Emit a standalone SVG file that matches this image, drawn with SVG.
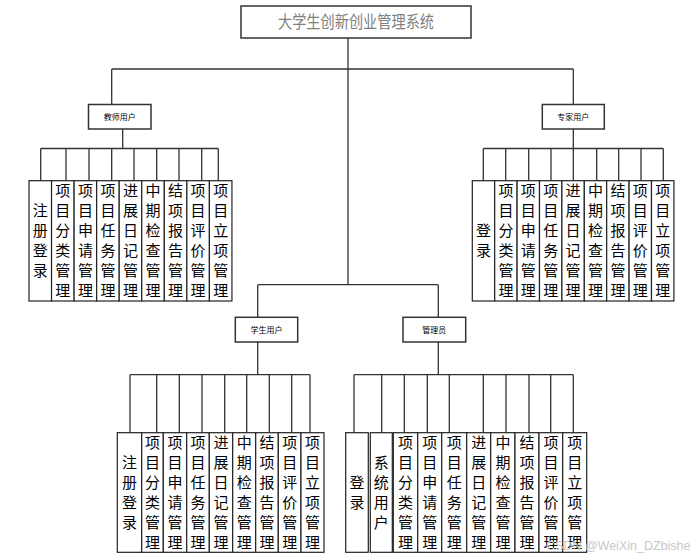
<svg xmlns="http://www.w3.org/2000/svg" width="700" height="560" viewBox="0 0 700 560">
<style>
.bx{fill:#fff;stroke:#333;stroke-width:1.5}
.col{fill:#fff;stroke:#222;stroke-width:1.2}
.ln{fill:none;stroke:#333;stroke-width:1.3}
.t{font-family:"Noto Sans CJK SC","Liberation Sans",sans-serif;font-size:15px;fill:#000;text-anchor:middle}
.s{font-family:"Noto Sans CJK SC","Liberation Sans",sans-serif;font-size:8px;fill:#000;text-anchor:middle}
.title{font-family:"Noto Sans CJK SC","Liberation Sans",sans-serif;font-size:17px;fill:#808080;text-anchor:middle}
.wm{font-family:"Liberation Sans",Arial,sans-serif;font-size:12.5px;fill:#c8c8c8}
</style>
<rect width="700" height="560" fill="#fff"/>
<g id="connectors" class="ln">
<path d="M348 38V284.7M111.7 69H573.3M111.7 69V104.5M573.3 69V104.5"/>
<path d="M122.7 129V148.5M40.7 148.5H218.3M40.7 148.5V180.7M66 148.5V180.7M89 148.5V180.7M111.7 148.5V180.7M134 148.5V180.7M156.7 148.5V180.7M179 148.5V180.7M201.7 148.5V180.7M218.3 148.5V180.7"/>
<path d="M573.3 129V148.5M483.3 148.5H663.3M483.3 148.5V180.7M505.7 148.5V180.7M528.7 148.5V180.7M551 148.5V180.7M573.3 148.5V180.7M596.7 148.5V180.7M618.7 148.5V180.7M641 148.5V180.7M663.3 148.5V180.7"/>
<path d="M257.7 284.7H438.3M257.7 284.7V317.3M438.3 284.7V317.3"/>
<path d="M257.7 342V374.7M130 374.7H310M130 374.7V432.7M156.7 374.7V432.7M179.3 374.7V432.7M202 374.7V432.7M224.7 374.7V432.7M246.7 374.7V432.7M269.3 374.7V432.7M291.7 374.7V432.7M310 374.7V432.7"/>
<path d="M438.3 342V374.7M354 374.7H573.3M354 374.7V432.7M381.7 374.7V432.7M404.3 374.7V432.7M427.3 374.7V432.7M449.3 374.7V432.7M483.3 374.7V432.7M506 374.7V432.7M529 374.7V432.7M550.7 374.7V432.7M573.3 374.7V432.7"/>
</g>
<g id="root">
<rect class="bx" x="241" y="6" width="230" height="32"/>
<text class="title" x="356" y="28" textLength="156" lengthAdjust="spacingAndGlyphs">大学生创新创业管理系统</text>
</g>
<g id="teacher">
<rect class="bx" x="88.5" y="104.5" width="62.5" height="24.5"/>
<text class="s" x="119.7" y="119.5">教师用户</text>
</g>
<g id="expert">
<rect class="bx" x="542.3" y="104.5" width="62" height="24.5"/>
<text class="s" x="573.3" y="119.5">专家用户</text>
</g>
<g id="student">
<rect class="bx" x="235.3" y="317.3" width="62.4" height="24.7"/>
<text class="s" x="266.5" y="332.5">学生用户</text>
</g>
<g id="admin">
<rect class="bx" x="403" y="317.3" width="62.7" height="24.7"/>
<text class="s" x="434.3" y="332.5">管理员</text>
</g>
<g id="teacher-items">
<rect class="col" x="29" y="180.7" width="22.55" height="120.3"/>
<rect class="col" x="51.55" y="180.7" width="22.55" height="120.3"/>
<rect class="col" x="74.1" y="180.7" width="22.55" height="120.3"/>
<rect class="col" x="96.65" y="180.7" width="22.55" height="120.3"/>
<rect class="col" x="119.2" y="180.7" width="22.55" height="120.3"/>
<rect class="col" x="141.75" y="180.7" width="22.55" height="120.3"/>
<rect class="col" x="164.3" y="180.7" width="22.55" height="120.3"/>
<rect class="col" x="186.85" y="180.7" width="22.55" height="120.3"/>
<rect class="col" x="209.4" y="180.7" width="22.55" height="120.3"/>
<text class="t" x="40.3 40.3 40.3 40.3" y="216 236 256 276">注册登录</text>
<text class="t" x="62.8 62.8 62.8 62.8 62.8 62.8" y="196 216 236 256 276 296">项目分类管理</text>
<text class="t" x="85.4 85.4 85.4 85.4 85.4 85.4" y="196 216 236 256 276 296">项目申请管理</text>
<text class="t" x="107.9 107.9 107.9 107.9 107.9 107.9" y="196 216 236 256 276 296">项目任务管理</text>
<text class="t" x="130.5 130.5 130.5 130.5 130.5 130.5" y="196 216 236 256 276 296">进展日记管理</text>
<text class="t" x="153 153 153 153 153 153" y="196 216 236 256 276 296">中期检查管理</text>
<text class="t" x="175.6 175.6 175.6 175.6 175.6 175.6" y="196 216 236 256 276 296">结项报告管理</text>
<text class="t" x="198.1 198.1 198.1 198.1 198.1 198.1" y="196 216 236 256 276 296">项目评价管理</text>
<text class="t" x="220.7 220.7 220.7 220.7 220.7 220.7" y="196 216 236 256 276 296">项目立项管理</text>
</g>
<g id="expert-items">
<rect class="col" x="472.3" y="180.7" width="22.4" height="120.3"/>
<rect class="col" x="494.7" y="180.7" width="22.4" height="120.3"/>
<rect class="col" x="517.1" y="180.7" width="22.4" height="120.3"/>
<rect class="col" x="539.5" y="180.7" width="22.4" height="120.3"/>
<rect class="col" x="561.9" y="180.7" width="22.4" height="120.3"/>
<rect class="col" x="584.3" y="180.7" width="22.4" height="120.3"/>
<rect class="col" x="606.7" y="180.7" width="22.4" height="120.3"/>
<rect class="col" x="629.1" y="180.7" width="22.4" height="120.3"/>
<rect class="col" x="651.5" y="180.7" width="22.4" height="120.3"/>
<text class="t" x="483.5 483.5" y="236 256">登录</text>
<text class="t" x="505.9 505.9 505.9 505.9 505.9 505.9" y="196 216 236 256 276 296">项目分类管理</text>
<text class="t" x="528.3 528.3 528.3 528.3 528.3 528.3" y="196 216 236 256 276 296">项目申请管理</text>
<text class="t" x="550.7 550.7 550.7 550.7 550.7 550.7" y="196 216 236 256 276 296">项目任务管理</text>
<text class="t" x="573.1 573.1 573.1 573.1 573.1 573.1" y="196 216 236 256 276 296">进展日记管理</text>
<text class="t" x="595.5 595.5 595.5 595.5 595.5 595.5" y="196 216 236 256 276 296">中期检查管理</text>
<text class="t" x="617.9 617.9 617.9 617.9 617.9 617.9" y="196 216 236 256 276 296">结项报告管理</text>
<text class="t" x="640.3 640.3 640.3 640.3 640.3 640.3" y="196 216 236 256 276 296">项目评价管理</text>
<text class="t" x="662.7 662.7 662.7 662.7 662.7 662.7" y="196 216 236 256 276 296">项目立项管理</text>
</g>
<g id="student-items">
<rect class="col" x="117.3" y="432.7" width="24.4" height="119.6"/>
<rect class="col" x="141.7" y="432.7" width="21.6" height="119.6"/>
<rect class="col" x="163.3" y="432.7" width="23.4" height="119.6"/>
<rect class="col" x="186.7" y="432.7" width="22.6" height="119.6"/>
<rect class="col" x="209.3" y="432.7" width="23.4" height="119.6"/>
<rect class="col" x="232.7" y="432.7" width="23" height="119.6"/>
<rect class="col" x="255.7" y="432.7" width="22.6" height="119.6"/>
<rect class="col" x="278.3" y="432.7" width="22.7" height="119.6"/>
<rect class="col" x="301" y="432.7" width="23" height="119.6"/>
<text class="t" x="129.5 129.5 129.5 129.5" y="467.5 487.5 507.5 527.5">注册登录</text>
<text class="t" x="152.5 152.5 152.5 152.5 152.5 152.5" y="447.5 467.5 487.5 507.5 527.5 547.5">项目分类管理</text>
<text class="t" x="175 175 175 175 175 175" y="447.5 467.5 487.5 507.5 527.5 547.5">项目申请管理</text>
<text class="t" x="198 198 198 198 198 198" y="447.5 467.5 487.5 507.5 527.5 547.5">项目任务管理</text>
<text class="t" x="221 221 221 221 221 221" y="447.5 467.5 487.5 507.5 527.5 547.5">进展日记管理</text>
<text class="t" x="244.2 244.2 244.2 244.2 244.2 244.2" y="447.5 467.5 487.5 507.5 527.5 547.5">中期检查管理</text>
<text class="t" x="267 267 267 267 267 267" y="447.5 467.5 487.5 507.5 527.5 547.5">结项报告管理</text>
<text class="t" x="289.7 289.7 289.7 289.7 289.7 289.7" y="447.5 467.5 487.5 507.5 527.5 547.5">项目评价管理</text>
<text class="t" x="312.5 312.5 312.5 312.5 312.5 312.5" y="447.5 467.5 487.5 507.5 527.5 547.5">项目立项管理</text>
</g>
<g id="admin-items">
<rect class="col" x="345.7" y="432.7" width="22.6" height="119.6"/>
<rect class="col" x="370.3" y="432.7" width="22" height="119.6"/>
<rect class="col" x="393.3" y="432.7" width="24.4" height="119.6"/>
<rect class="col" x="417.7" y="432.7" width="24" height="119.6"/>
<rect class="col" x="441.7" y="432.7" width="25" height="119.6"/>
<rect class="col" x="466.7" y="432.7" width="24" height="119.6"/>
<rect class="col" x="490.7" y="432.7" width="24.3" height="119.6"/>
<rect class="col" x="515" y="432.7" width="24" height="119.6"/>
<rect class="col" x="539" y="432.7" width="23.7" height="119.6"/>
<rect class="col" x="562.7" y="432.7" width="24" height="119.6"/>
<text class="t" x="357 357" y="487.5 507.5">登录</text>
<text class="t" x="381.3 381.3 381.3 381.3" y="467.5 487.5 507.5 527.5">系统用户</text>
<text class="t" x="405.5 405.5 405.5 405.5 405.5 405.5" y="447.5 467.5 487.5 507.5 527.5 547.5">项目分类管理</text>
<text class="t" x="429.7 429.7 429.7 429.7 429.7 429.7" y="447.5 467.5 487.5 507.5 527.5 547.5">项目申请管理</text>
<text class="t" x="454.2 454.2 454.2 454.2 454.2 454.2" y="447.5 467.5 487.5 507.5 527.5 547.5">项目任务管理</text>
<text class="t" x="478.7 478.7 478.7 478.7 478.7 478.7" y="447.5 467.5 487.5 507.5 527.5 547.5">进展日记管理</text>
<text class="t" x="502.9 502.9 502.9 502.9 502.9 502.9" y="447.5 467.5 487.5 507.5 527.5 547.5">中期检查管理</text>
<text class="t" x="527 527 527 527 527 527" y="447.5 467.5 487.5 507.5 527.5 547.5">结项报告管理</text>
<text class="t" x="550.9 550.9 550.9 550.9 550.9 550.9" y="447.5 467.5 487.5 507.5 527.5 547.5">项目评价管理</text>
<text class="t" x="574.7 574.7 574.7 574.7 574.7 574.7" y="447.5 467.5 487.5 507.5 527.5 547.5">项目立项管理</text>
</g>
<text class="wm" x="546" y="550">CSDN @WeiXin_DZbishe</text>
</svg>
